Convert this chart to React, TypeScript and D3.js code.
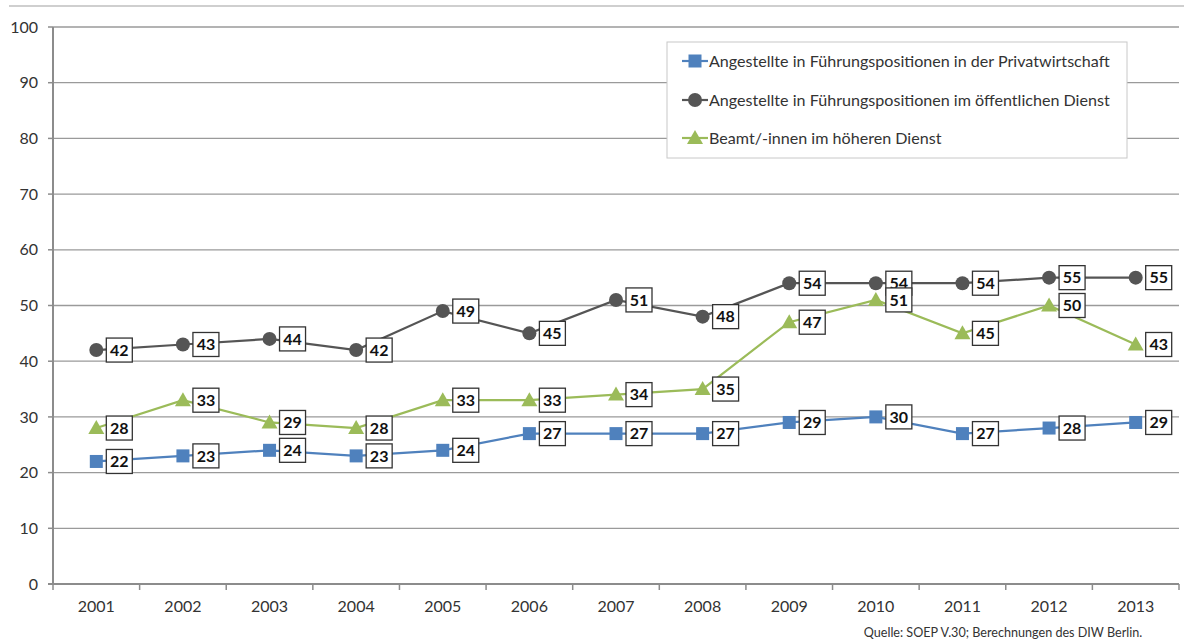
import React from "react";
import * as d3 from "d3";

const years = ["2001","2002","2003","2004","2005","2006","2007","2008","2009","2010","2011","2012","2013"];
const privat = [22,23,24,23,24,27,27,27,29,30,27,28,29];
const oeffentlich = [42,43,44,42,49,45,51,48,54,54,54,55,55];
const beamte = [28,33,29,28,33,33,34,35,47,51,45,50,43];
const yTicks = [0,10,20,30,40,50,60,70,80,90,100];
const seriesNames = [
  "Angestellte in Führungspositionen in der Privatwirtschaft",
  "Angestellte in Führungspositionen im öffentlichen Dienst",
  "Beamt/-innen im höheren Dienst",
];
const source = "Quelle: SOEP V.30; Berechnungen des DIW Berlin.";

const W = 1184, H = 642;
const FONT = "Lato, 'Open Sans', sans-serif";

const series = [
  { name: seriesNames[0], values: privat, color: "#4f81bd", marker: "square" },
  { name: seriesNames[1], values: oeffentlich, color: "#555555", marker: "circle" },
  { name: seriesNames[2], values: beamte, color: "#9bbb59", marker: "triangle" },
];

function Marker({ type, x, y, color }: { type: string; x: number; y: number; color: string }) {
  if (type === "square") return <rect x={x - 6.5} y={y - 6.5} width={13} height={13} fill={color} />;
  if (type === "circle") return <circle cx={x} cy={y} r={7} fill={color} />;
  return <path d={`M${x},${y - 8}L${x + 8},${y + 6}L${x - 8},${y + 6}Z`} fill={color} />;
}

export default function App() {
  const x = d3.scaleBand<string>().domain(years).range([53, 1179]);
  const y = d3.scaleLinear().domain([0, 100]).range([584, 27]);
  const cx = (yr: string) => (x(yr) as number) + x.bandwidth() / 2;
  const line = d3.line<number>().x((_, i) => cx(years[i])).y((d) => y(d));

  return (
    <svg width={W} height={H} style={{ position: "absolute", left: 0, top: 0, background: "#fff" }}>
      <line x1={9} x2={1184} y1={6} y2={6} stroke="#cfcfcf" strokeWidth={2} />
      {yTicks.map((t) => (
        <g key={t}>
          {t > 0 && <line x1={53} x2={1179} y1={y(t)} y2={y(t)} stroke="#9a9a9a" strokeWidth={1.3} />}
          <line x1={48} x2={53} y1={y(t)} y2={y(t)} stroke="#8c8c8c" strokeWidth={1.5} />
          <text x={38} y={y(t)} dy="0.35em" textAnchor="end" fontFamily={FONT} fontSize={16} fill="#333">{t}</text>
        </g>
      ))}
      <line x1={53} x2={53} y1={27} y2={584} stroke="#8c8c8c" strokeWidth={2} />
      <line x1={48} x2={1179} y1={584} y2={584} stroke="#8c8c8c" strokeWidth={2} />
      {years.map((yr) => (
        <line key={"t" + yr} x1={x(yr) as number} x2={x(yr) as number} y1={584} y2={590} stroke="#8c8c8c" strokeWidth={1.5} />
      ))}
      <line x1={1179} x2={1179} y1={584} y2={590} stroke="#8c8c8c" strokeWidth={1.5} />
      {years.map((yr) => (
        <text key={"l" + yr} x={cx(yr)} y={612} textAnchor="middle" fontFamily={FONT} fontSize={16} fill="#333">{yr}</text>
      ))}
      {series.map((s) => (
        <g key={s.name}>
          <path d={line(s.values) || ""} fill="none" stroke={s.color} strokeWidth={2.2} />
          {s.values.map((v, i) => (
            <Marker key={i} type={s.marker} x={cx(years[i])} y={y(v)} color={s.color} />
          ))}
        </g>
      ))}
      {series.map((s) => (
        <g key={"lab" + s.name}>
          {s.values.map((v, i) => {
            const px = cx(years[i]) + 10;
            const py = y(v);
            return (
              <g key={i}>
                <rect x={px} y={py - 12} width={26} height={24} fill="#fff" stroke="#333" strokeWidth={1.3} />
                <text x={px + 13} y={py} dy="0.36em" textAnchor="middle" fontFamily={FONT} fontSize={16} fontWeight="bold" fill="#111">{v}</text>
              </g>
            );
          })}
        </g>
      ))}
      <rect x={667} y={42} width={460} height={116} fill="#fff" stroke="#c8c8c8" strokeWidth={1} />
      {series.map((s, i) => {
        const ly = [61, 100, 138][i];
        return (
          <g key={"lg" + s.name}>
            <line x1={682} x2={708} y1={ly} y2={ly} stroke={s.color} strokeWidth={2.2} />
            <Marker type={s.marker} x={695} y={ly} color={s.color} />
            <text x={709} y={ly} dy="0.35em" fontFamily={FONT} fontSize={16.1} fill="#333">{s.name}</text>
          </g>
        );
      })}
      <text x={1003} y={637} textAnchor="middle" fontFamily={FONT} fontSize={12.6} fill="#333">{source}</text>
    </svg>
  );
}
